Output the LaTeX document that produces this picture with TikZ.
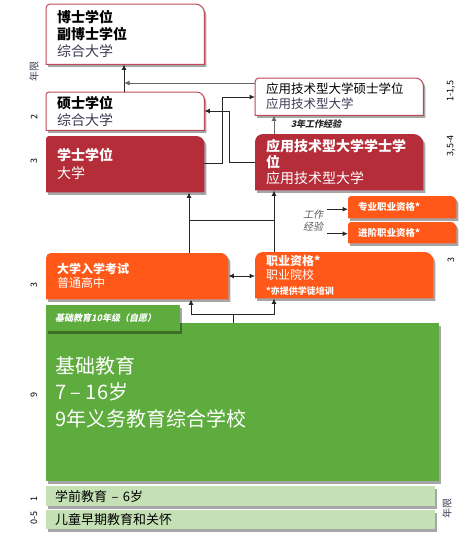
\documentclass[tikz,border=0pt]{standalone}
\usepackage{fontspec}
\setmainfont{Noto Sans CJK SC}
\newfontfamily\itf{Noto Sans CJK SC}[FakeSlant=0.22]
\usetikzlibrary{arrows.meta,shadows,backgrounds}
\definecolor{dred}{RGB}{181,45,57}
\definecolor{rbord}{RGB}{190,75,85}
\definecolor{ora}{RGB}{255,88,24}
\definecolor{grn}{RGB}{94,172,61}
\definecolor{lgrn}{RGB}{197,224,180}
\definecolor{slate}{RGB}{60,60,85}
\newcommand\shp[4]{\path[#2] (#1.south west) -- ([yshift=-#3]#1.north west) arc[start angle=180,end angle=90,radius=#3] -- ([xshift=-#4]#1.north east) arc[start angle=90,end angle=0,radius=#4] -- (#1.south east) -- cycle;}
\begin{document}
\begin{tikzpicture}[x=1pt,y=1pt,
  bx/.style={anchor=north west, inner xsep=11pt, inner ysep=0pt, align=left},
  sh/.style={drop shadow={shadow xshift=2pt, shadow yshift=-2.5pt, opacity=0.35, fill=black}},
  wbox/.style={fill=white, draw=rbord, line width=1pt, sh},
  rbox/.style={fill=dred, sh},
  obox/.style={fill=ora, sh},
  gbox/.style={fill=grn, sh},
  lgbox/.style={fill=lgrn, sh},
  arr/.style={draw=black!85, line width=1pt, -{Latex[length=5.5pt,width=5pt]}},
  garr/.style={arr, draw=black!60},
  arrboth/.style={draw=black!85, line width=1pt, {Latex[length=5.5pt,width=5pt]}-{Latex[length=5.5pt,width=5pt]}},
  ln/.style={draw=black!85, line width=1pt},
  lab/.style={rotate=90, inner sep=0pt, font=\fontsize{9}{9}\selectfont},
  ylab/.style={rotate=90, inner sep=0pt, text=slate, font=\fontsize{10}{10}\selectfont}
]
\useasboundingbox (0,0) rectangle (475,-549);

% boxes
\node[bx, text width=136pt, minimum height=60pt, font=\fontsize{14}{17}\selectfont] (doc) at (46,-4)
  {\textbf{博士学位}\\\textbf{副博士学位}\\{\color{slate}综合大学}};
\node[bx, text width=136pt, minimum height=38pt, font=\fontsize{14}{17}\selectfont] (mas) at (46,-92)
  {\textbf{硕士学位}\\{\color{slate}综合大学}};
\node[bx, text width=136pt, minimum height=56pt, text=white, font=\fontsize{14}{18}\selectfont] (bac) at (46,-136)
  {\textbf{学士学位}\\大学};
\node[bx, text width=146pt, minimum height=37pt, font=\fontsize{12.5}{15}\selectfont] (amas) at (255,-78)
  {应用技术型大学硕士学位\\{\color{slate}应用技术型大学}};
\node[bx, text width=146pt, minimum height=56pt, text=white, font=\fontsize{14}{16}\selectfont] (abac) at (255,-134)
  {\textbf{应用技术型大学学士学}\\\textbf{位}\\应用技术型大学};
\node[bx, inner xsep=10pt, text width=88pt, minimum height=22pt, text=white, font=\fontsize{9.5}{11}\selectfont] (pro1) at (348,-196)
  {\textbf{专业职业资格*}};
\node[bx, inner xsep=10pt, text width=88pt, minimum height=21pt, text=white, font=\fontsize{9.5}{11}\selectfont] (pro2) at (348,-222)
  {\textbf{进阶职业资格*}};
\node[bx, text width=160pt, minimum height=46pt, text=white, font=\fontsize{12}{14}\selectfont] (exam) at (46,-253)
  {\textbf{大学入学考试}\\普通高中};
\node[bx, text width=156pt, minimum height=46pt, text=white, font=\fontsize{12}{14.5}\selectfont] (voc) at (255,-252)
  {\textbf{职业资格*}\\职业院校\\{\fontsize{9}{12}\selectfont\textbf{*亦提供学徒培训}}};
\node[bx, text width=371pt, minimum height=158pt] (basic) at (46,-323) {};
\node[anchor=north west, inner sep=0pt, align=left, text=white, font=\fontsize{20}{26.5}\selectfont] (basict) at (55,-356)
  {基础教育\\7 – 16岁\\9年义务教育综合学校};
\node[bx, inner xsep=9pt, text width=116pt, minimum height=26pt, text=white, font=\itf\bfseries\fontsize{9}{11}\selectfont] (g10) at (46,-305)
  {基础教育10年级（自愿）};
\node[bx, inner xsep=9pt, text width=371pt, minimum height=20pt, font=\fontsize{13}{15}\selectfont] (pre) at (46,-486)
  {学前教育 – 6岁};
\node[bx, inner xsep=9pt, text width=371pt, minimum height=19pt, font=\fontsize{13}{15}\selectfont] (early) at (46,-510)
  {儿童早期教育和关怀};

% small labels
\node[inner sep=0pt, text=black!85, font=\itf\bfseries\fontsize{9}{11}\selectfont] (exp3) at (316,-124) {3年工作经验};
\node[inner sep=0pt, align=center, text=black!65, font=\itf\fontsize{10}{12}\selectfont] (work) at (313,-221) {工作\\经验};

% side labels
\node[ylab] (yl) at (34,-71) {年限};
\node[lab] (l2) at (34,-117) {2};
\node[lab] (l3a) at (34,-161) {3};
\node[lab] (l3b) at (34,-285) {3};
\node[lab] (l9) at (34,-395) {9};
\node[lab] (l1) at (34,-499) {1};
\node[lab] (l05) at (34,-518) {0-5};
\node[lab] (r1) at (451,-91) {1-1,5};
\node[lab] (r2) at (451,-146) {3,5-4};
\node[lab] (r3) at (451,-260) {3};
\node[ylab] (yr) at (447,-508) {年限};

% shapes
\begin{scope}[on background layer]
  \shp{doc}{wbox}{4pt}{9pt}
  \shp{mas}{wbox}{3pt}{8pt}
  \shp{bac}{rbox}{3pt}{8pt}
  \shp{amas}{wbox}{4pt}{8pt}
  \shp{abac}{rbox}{8pt}{10pt}
  \shp{pro1}{obox}{3pt}{6pt}
  \shp{pro2}{obox}{3pt}{6pt}
  \shp{exam}{obox}{5pt}{8pt}
  \shp{voc}{obox}{8pt}{9pt}
  \path[gbox] (basic.south west) rectangle (basic.north east);
  \path[gbox] (g10.south west) rectangle (g10.north east);
  \path[lgbox] (pre.south west) rectangle (pre.north east);
  \path[lgbox] (early.south west) rectangle (early.north east);
\end{scope}

% connectors
\coordinate (j1) at (124,-83);
\coordinate (jb) at (233,-314);
\coordinate (c1) at (189,-220);
\coordinate (c2) at (274,-220);
\draw[arr] ([xshift=78pt]mas.north west) -- ([xshift=78pt]doc.south west);
\draw[garr] (amas.west |- j1) -- (j1);
\draw[arr] ([yshift=-27pt]bac.north east) -- ++(18,0) |- ([yshift=-19pt]amas.north west);
\draw[arr] ([yshift=-28pt]abac.north west) -- ++(-26,0) |- ([yshift=-19pt]mas.north east);
\draw[garr] ([xshift=19pt]abac.north west) -- ([xshift=19pt]amas.south west);
\draw[arr] ([xshift=143pt]exam.north west) -- ([xshift=143pt]bac.south west);
\draw[arr] ([xshift=19pt]voc.north west) -- ([xshift=19pt]abac.south west);
\draw[ln] (c1) -- (c2);
\draw[arrboth] ([yshift=-23pt]exam.north east) -- ([yshift=-24pt]voc.north west);
\draw[ln] (basic.north -| jb) -- (jb);
\draw[arr] (jb) -| ([xshift=145pt]exam.south west);
\draw[arr] (jb) -| ([xshift=19pt]voc.south west);
\draw[arr] ([xshift=-21pt,yshift=-2pt]pro1.west) -- ([yshift=-2pt]pro1.west);
\draw[arr] ([xshift=-21pt,yshift=-1pt]pro2.west) -- ([yshift=-1pt]pro2.west);
\end{tikzpicture}
\end{document}
